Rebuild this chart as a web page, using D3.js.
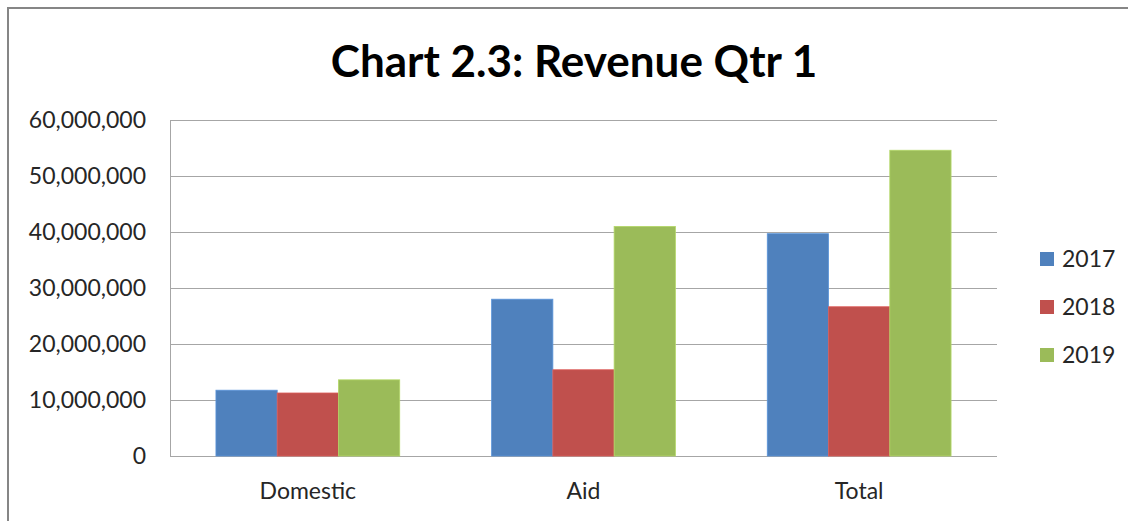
<!DOCTYPE html>
<html>
<head>
<meta charset="utf-8">
<script src="https://cdn.jsdelivr.net/npm/d3@7"></script>
<style>
  body { margin: 0; background: #fff; }
  text { font-family: Lato, "Open Sans", sans-serif; fill: #262626; }
</style>
</head>
<body>
<svg id="chart" width="1128" height="521"></svg>
<script>
// chart data
const categories = ['Domestic', 'Aid', 'Total'];
const seriesNames = ['2017', '2018', '2019'];
const values2017 = [11750000, 28000000, 39700000];
const values2018 = [11250000, 15400000, 26650000];
const values2019 = [13600000, 41000000, 54600000];
const yTicks = [0, 10000000, 20000000, 30000000, 40000000, 50000000, 60000000];
const colors = ['#4F81BD', '#C0504D', '#9BBB59'];

const seriesValues = [values2017, values2018, values2019];

const svg = d3.select('#chart');

// outer chart border (runs off the right and bottom edges)
svg.append('rect')
    .attr('x', 8).attr('y', 8)
    .attr('width', 1140).attr('height', 540)
    .attr('fill', 'white')
    .attr('stroke', '#868686')
    .attr('stroke-width', 2);

svg.append('text')
    .attr('x', 574).attr('y', 77)
    .attr('text-anchor', 'middle')
    .style('font-size', '44px')
    .style('font-weight', 'bold')
    .style('fill', '#000')
    .text('Chart 2.3: Revenue Qtr 1');

const plot = { left: 170, right: 997, top: 120, bottom: 456 };

const x = d3.scaleBand()
    .domain(categories)
    .range([plot.left, plot.right]);

const barW = x.bandwidth() / 4.5;

const xInner = d3.scaleBand()
    .domain(seriesNames)
    .range([0, barW * 3]);

const y = d3.scaleLinear()
    .domain([0, 60000000])
    .range([plot.bottom, plot.top]);

// gridlines
svg.append('g')
    .selectAll('line')
    .data(yTicks)
    .enter().append('line')
    .attr('x1', plot.left).attr('x2', plot.right)
    .attr('y1', d => y(d) + 0.5).attr('y2', d => y(d) + 0.5)
    .attr('stroke', '#a6a6a6')
    .attr('stroke-width', 1);

// y axis line
svg.append('line')
    .attr('x1', plot.left + 0.5).attr('x2', plot.left + 0.5)
    .attr('y1', plot.top).attr('y2', plot.bottom)
    .attr('stroke', '#a6a6a6');

// y tick labels
const fmt = d3.format(',');
svg.append('g')
    .selectAll('text')
    .data(yTicks)
    .enter().append('text')
    .attr('x', 146)
    .attr('y', d => y(d))
    .attr('dy', '0.35em')
    .attr('text-anchor', 'end')
    .style('font-size', '23px')
    .text(d => fmt(d));

// bars
const groups = svg.append('g')
    .selectAll('g')
    .data(categories)
    .enter().append('g')
    .attr('transform', d => `translate(${x(d) + 0.75 * barW},0)`);

groups.selectAll('rect')
    .data((c, i) => seriesNames.map((s, j) => ({ series: s, value: seriesValues[j][i], color: colors[j] })))
    .enter().append('rect')
    .attr('x', d => xInner(d.series))
    .attr('y', d => y(d.value))
    .attr('width', xInner.bandwidth())
    .attr('height', d => y(0) - y(d.value))
    .attr('fill', d => d.color)
    .attr('stroke', d => d3.color(d.color).brighter(0.4))
    .attr('stroke-width', 0.8);

// category labels
svg.append('g')
    .selectAll('text')
    .data(categories)
    .enter().append('text')
    .attr('x', d => x(d) + x.bandwidth() / 2)
    .attr('y', 499)
    .attr('text-anchor', 'middle')
    .style('font-size', '23px')
    .text(d => d);

// legend
const legend = svg.append('g')
    .selectAll('g')
    .data(seriesNames)
    .enter().append('g')
    .attr('transform', (d, i) => `translate(1040,${259 + i * 48})`);

legend.append('rect')
    .attr('x', 0).attr('y', -7)
    .attr('width', 14).attr('height', 14)
    .attr('fill', (d, i) => colors[i]);

legend.append('text')
    .attr('x', 22)
    .attr('y', 0)
    .attr('dy', '0.35em')
    .style('font-size', '23px')
    .text(d => d);
</script>
</body>
</html>
